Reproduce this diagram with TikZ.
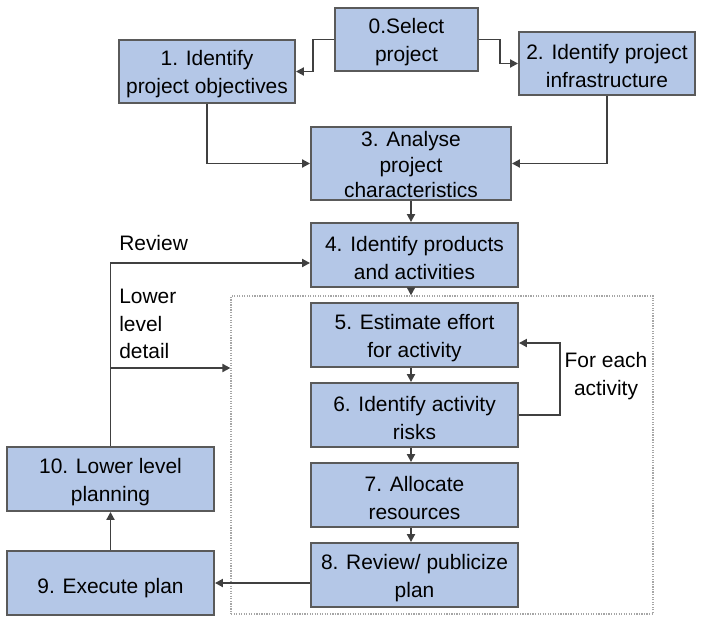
\documentclass[tikz,border=0pt]{standalone}
\usepackage{fontspec}
\setmainfont{Liberation Sans}
\usetikzlibrary{arrows.meta}

\definecolor{boxblue}{RGB}{180,199,231}
\definecolor{boxline}{RGB}{90,90,90}
\definecolor{flowline}{RGB}{64,64,64}

\tikzset{
  stage/.style={draw=boxline, line width=1.4pt, fill=boxblue, align=center,
    inner sep=0pt, font=\fontsize{15.7}{20.8}\selectfont,
    execute at begin node={\rule{0pt}{#1}}},
  stage/.default=36.5pt,
  flow/.style={draw=flowline, line width=1.4pt,
    -{Triangle[length=6pt,width=6pt]}},
  group/.style={draw=gray!70, densely dotted, line width=0.9pt, inner sep=0pt},
  remark/.style={align=left, font=\fontsize{15.7}{20.5}\selectfont, inner sep=0pt}
}

\begin{document}
\begin{tikzpicture}[x=0.75pt,y=-0.75pt]
    \useasboundingbox (0,0) rectangle (706,624);

    % dotted frame round steps 5 to 8
    \node[group, minimum width=316.5pt, minimum height=238.5pt] (grp) at (442,455) {};

    \node[stage, minimum width=107.25pt, minimum height=47.25pt] (sel) at (406.5,39.5) {0.Select\\project};
    \node[stage, minimum width=132pt, minimum height=47.25pt] (obj) at (207,71.5) {1. Identify\\project objectives};
    \node[stage, minimum width=132pt, minimum height=47.25pt] (infra) at (607,63.5) {2. Identify project\\infrastructure};
    \node[stage=51pt, minimum width=150pt, minimum height=54.75pt, font=\fontsize{15.7}{19}\selectfont] (ana) at (411,163.5) {3. Analyse\\project\\characteristics};
    \node[stage, minimum width=155.25pt, minimum height=48pt] (prod) at (414.5,255) {4. Identify products\\and activities};
    \node[stage, minimum width=155.25pt, minimum height=48pt] (est) at (414.5,335) {5. Estimate effort\\for activity};
    \node[stage, minimum width=155.25pt, minimum height=48pt] (risk) at (414.5,415) {6. Identify activity\\risks};
    \node[stage, minimum width=155.25pt, minimum height=48pt] (alloc) at (414.5,495) {7. Allocate\\resources};
    \node[stage, minimum width=155.25pt, minimum height=48pt] (rev) at (414.5,575) {8. Review/ publicize\\plan};
    \node[stage, minimum width=155.25pt, minimum height=48pt] (lower) at (110.5,479) {10. Lower level\\planning};
    \node[stage=19pt, minimum width=155.25pt, minimum height=48pt] (exec) at (110.5,583) {9. Execute plan};

    \node[remark, anchor=west] (lrev) at (119,243) {Review};
    \node[remark, anchor=north west] (ldet) at (119,289) {Lower\\level\\detail};
    \node[remark, align=center] (leach) at (606,376) {For each\\activity};

    % top of the chart
    \draw[flow] (sel.west) -- ++(-21,0) |- (obj.east);
    \draw[flow] (sel.east) -- ++(21,0) |- (infra.west);
    \draw[flow] (obj.south) |- (ana.west);
    \draw[flow] (infra.south) |- (ana.east);
    \draw[flow] (ana.south) -- (ana.south |- prod.north);
    \draw[flow] (prod.south -| ana.south) -- (ana.south |- grp.north);

    % steps inside the frame
    \draw[flow] (est.south -| ana.south) -- (ana.south |- risk.north);
    \draw[flow] (risk.south -| ana.south) -- (ana.south |- alloc.north);
    \draw[flow] (alloc.south -| ana.south) -- (ana.south |- rev.north);
    \draw[flow] (risk.east) -- ++(41,0) |- ([yshift=-6pt]est.east);

    % back loop
    \draw[flow] (rev.west |- exec.east) -- (exec.east);
    \draw[flow] (exec.north) -- (lower.south);
    \coordinate (tap) at (lower.north |- 0,368);
    \draw[flow] (lower.north) |- ([yshift=-6pt]prod.west);
    \draw[flow] (tap) -- (tap -| grp.west);
\end{tikzpicture}
\end{document}
